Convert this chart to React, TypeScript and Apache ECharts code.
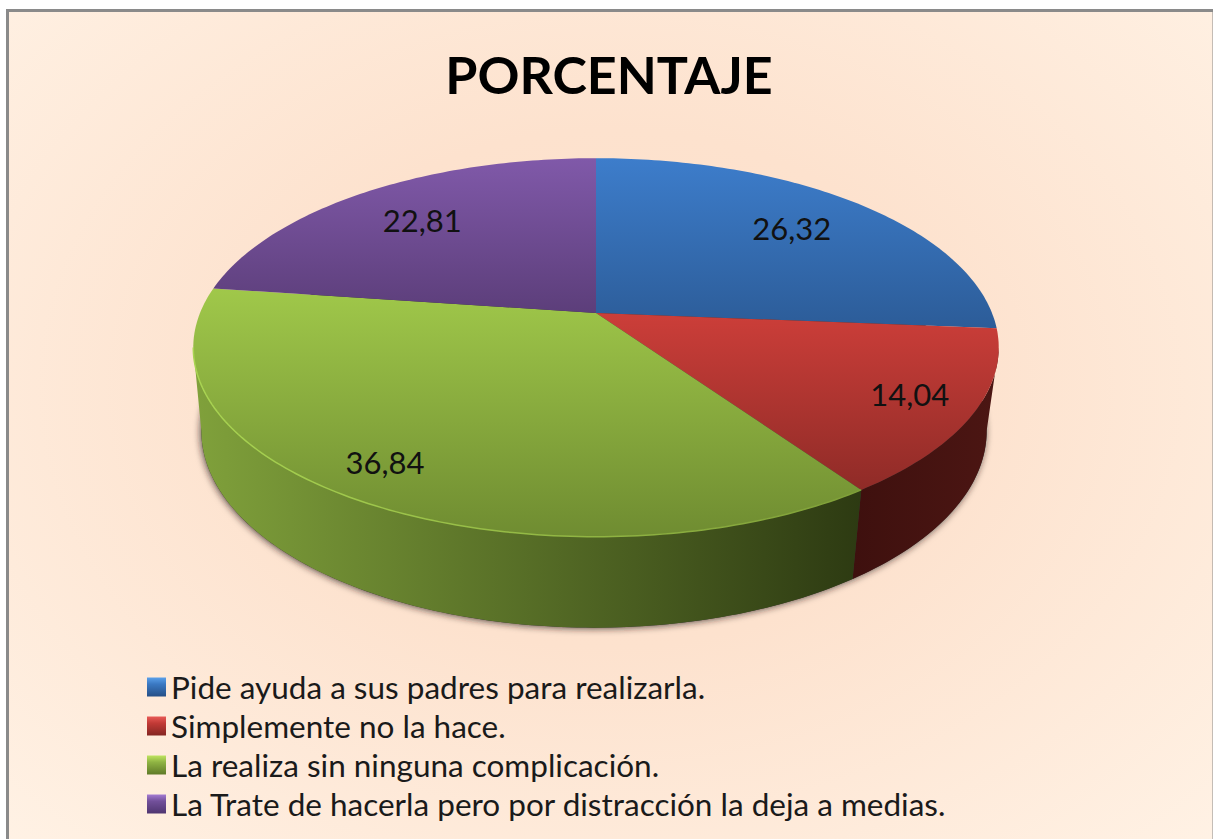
import React, { useEffect, useRef } from "react";
import * as echarts from "echarts";

const titleText = "PORCENTAJE";
const categories = [
  "Pide ayuda a sus padres para realizarla.",
  "Simplemente no la hace.",
  "La realiza sin ninguna complicación.",
  "La Trate de hacerla pero por distracción la deja a medias.",
];
const values = [26.32, 14.04, 36.84, 22.81];
const valueLabels = ["26,32", "14,04", "36,84", "22,81"];

const topLight = ["#3d7dcb", "#cc3e39", "#a0c84a", "#8059a9"];
const topDark = ["#2c5c98", "#8f2b27", "#6f8c31", "#5c3e7a"];
const sideLeft = ["#2a5589", "#3e100e", "#80a13b", "#5a3c78"];
const sideRight = ["#1d3c63", "#4c1613", "#2d3a12", "#3f2a55"];
const rimLeft = ["", "", "#a9d452", ""];
const rimRight = ["", "", "#7f9f38", ""];
const iconLight = ["#5aa0ea", "#e85a56", "#bfe460", "#a47cd2"];
const iconMid = ["#3a78c2", "#c23a36", "#8fb343", "#72509a"];
const iconDark = ["#254f86", "#842622", "#5f7a28", "#4f3570"];
const labelRadius = [0.7415, 0.84, 0.848, 0.74];
const labelTurn = [-0.6, -0.85, 1.6, 0.25];

// Perspective projection of the pie's circular faces
const CX = 596, CY = 313, RX = 396, RY = 183, PERSP = 0.182;
const BASE_CX = 594, BASE_CY = 395, BASE_SX = 0.975, BASE_SY = 1.04;
const VISIBLE_FROM = 100.5, VISIBLE_TO = 259.5;

const total = values.reduce((a, b) => a + b, 0);
const project = (deg: number, r: number) => {
  const a = (deg * Math.PI) / 180;
  const u = Math.sin(a) * r;
  const v = Math.cos(a) * r;
  const w = 1 + PERSP * v;
  return [(RX * u) / w, -(RY * v) / w];
};
const topPoint = (deg: number, r = 1) => {
  const [x, y] = project(deg, r);
  return [CX + x, CY + y];
};
const basePoint = (deg: number) => {
  const [x, y] = project(deg, 1);
  return [BASE_CX + x * BASE_SX, BASE_CY + y * BASE_SY];
};
const arc = (fn: (d: number) => number[], from: number, to: number) => {
  const n = Math.max(2, Math.ceil(Math.abs(to - from)));
  const pts: number[][] = [];
  for (let i = 0; i <= n; i++) pts.push(fn(from + ((to - from) * i) / n));
  return pts;
};
const vGrad = (a: string, b: string) =>
  new echarts.graphic.LinearGradient(0, 0, 0, 1, [
    { offset: 0, color: a },
    { offset: 1, color: b },
  ]);
const hGrad = (a: string, b: string) =>
  new echarts.graphic.LinearGradient(0, 0, 1, 0, [
    { offset: 0, color: a },
    { offset: 1, color: b },
  ]);

const sliceSeries = (i: number) => {
  const before = values.slice(0, i).reduce((a, b) => a + b, 0);
  return {
    type: "custom",
    name: categories[i],
    coordinateSystem: "none",
    silent: true,
    itemStyle: {
      color: new echarts.graphic.LinearGradient(0, 0, 0, 1, [
        { offset: 0, color: iconLight[i] },
        { offset: 0.35, color: iconMid[i] },
        { offset: 1, color: iconDark[i] },
      ]),
    },
    data: [[values[i]]],
    renderItem: (_p: any, api: any) => {
      const start = (before / total) * 360;
      const end = ((before + api.value(0)) / total) * 360;
      const mid = (start + end) / 2;
      const rim = arc((d) => topPoint(d), start, end);
      const sideFrom = Math.max(start, VISIBLE_FROM);
      const sideTo = Math.min(end, VISIBLE_TO);
      const lp = topPoint(mid + labelTurn[i], labelRadius[i]);
      const children: any[] = [];
      if (sideTo > sideFrom) {
        const sideTop = arc((d) => topPoint(d), sideFrom, sideTo);
        const sideBase = arc(basePoint, sideTo, sideFrom);
        children.push({
          type: "polygon",
          z2: 2,
          shape: { points: [...sideTop, ...sideBase] },
          style: { fill: hGrad(sideLeft[i], sideRight[i]) },
        });
      }
      children.push({
        type: "polygon",
        z2: 10,
        shape: { points: [[CX, CY], ...rim] },
        style: { fill: vGrad(topLight[i], topDark[i]) },
      });
      if (rimLeft[i] && sideTo > sideFrom) {
        children.push({
          type: "polyline",
          z2: 11,
          shape: { points: arc((d) => topPoint(d), sideTo, sideFrom) },
          style: {
            fill: "none",
            stroke: hGrad(rimLeft[i], rimRight[i]),
            lineWidth: 1.5,
          },
        });
      }
      children.push({
        type: "text",
        z2: 20,
        x: lp[0],
        y: lp[1],
        style: {
          text: valueLabels[i],
          font: "31px Lato",
          fill: "#111111",
          align: "center",
          verticalAlign: "middle",
        },
      });
      return { type: "group", children };
    },
  };
};

const shadowSeries = {
  type: "custom",
  name: "sombra",
  coordinateSystem: "none",
  silent: true,
  z: 1,
  data: [[total]],
  renderItem: () => ({
    type: "polygon",
    z2: 1,
    shape: { points: arc(basePoint, 0, 360) },
    style: {
      fill: "#333333",
      shadowColor: "rgba(40,30,30,0.75)",
      shadowBlur: 7,
      shadowOffsetX: -1,
      shadowOffsetY: 1,
    },
  }),
};

export default function App() {
  const ref = useRef<HTMLDivElement>(null);
  useEffect(() => {
    document.body.style.margin = "0";
    document.body.style.background = "#ffffff";
    const chart = echarts.init(ref.current!, undefined, { renderer: "svg" });
    chart.setOption({
      animation: false,
      backgroundColor: "#ffffff",
      graphic: [
        {
          type: "rect",
          z: -10,
          silent: true,
          shape: { x: 7.5, y: 10.5, width: 1206.5, height: 900 },
          style: {
            stroke: "#8a8a8a",
            lineWidth: 3,
            fill: new echarts.graphic.RadialGradient(0.5, 0.42, 0.72, [
              { offset: 0, color: "#fddfc8" },
              { offset: 0.4, color: "#fde2ce" },
              { offset: 1, color: "#fff2e5" },
            ]),
          },
        },
      ],
      title: {
        text: titleText,
        left: 604,
        top: 43,
        textAlign: "center",
        textStyle: {
          fontFamily: "Lato",
          fontWeight: "bold",
          fontSize: 52,
          color: "#000000",
        },
      },
      legend: {
        data: categories,
        orient: "vertical",
        left: 147,
        top: 671,
        padding: 0,
        icon: "rect",
        itemWidth: 19,
        itemHeight: 19,
        itemGap: 7,
        selectedMode: false,
        textStyle: {
          fontFamily: "Lato",
          fontSize: 31.5,
          color: "#1a1a1a",
          lineHeight: 29,
        },
      },
      series: [shadowSeries, ...categories.map((_, i) => sliceSeries(i))],
    });
    return () => chart.dispose();
  }, []);
  return (
    <div
      ref={ref}
      style={{ position: "fixed", left: 0, top: 0, width: 1213, height: 839 }}
    />
  );
}
